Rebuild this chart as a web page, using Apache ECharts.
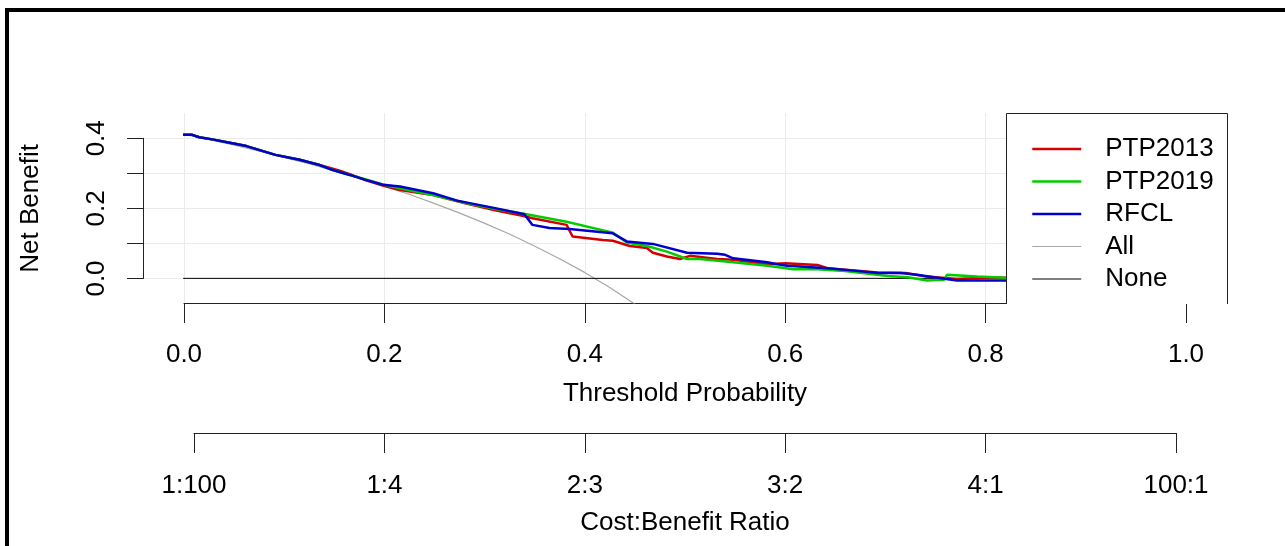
<!DOCTYPE html>
<html>
<head>
<meta charset="utf-8">
<title>Decision curve</title>
<script src="https://cdn.jsdelivr.net/npm/echarts@6/dist/echarts.min.js"></script>
<style>
  html, body { margin: 0; padding: 0; background: #fff; }
  #chart { width: 1285px; height: 546px; }
</style>
</head>
<body>
<div id="chart"></div>
<script>
// [threshold, net benefit]
var ptp2013 = [[0,.408],[.009,.408],[.016,.401],[.029,.395],[.049,.384],[.063,.376],[.092,.351],[.116,.337],[.136,.322],[.156,.306],[.166,.296],[.182,.279],[.199,.264],[.216,.251],[.249,.237],[.280,.214],[.312,.193],[.338,.178],[.348,.171],[.382,.152],[.388,.119],[.418,.109],[.428,.107],[.445,.092],[.462,.086],[.468,.073],[.482,.062],[.495,.055],[.505,.064],[.532,.055],[.548,.053],[.582,.040],[.600,.043],[.632,.038],[.642,.029],[.692,.017],[.720,.015],[.741,.005],[.771,-.002],[.800,.002],[.820,.002],[.900,.000],[.990,.000]];
var ptp2019 = [[0,.408],[.009,.408],[.016,.401],[.029,.395],[.049,.384],[.063,.376],[.092,.351],[.116,.337],[.136,.322],[.149,.308],[.166,.294],[.182,.281],[.199,.267],[.216,.256],[.249,.237],[.282,.214],[.312,.197],[.342,.182],[.382,.161],[.428,.130],[.442,.102],[.462,.092],[.482,.076],[.502,.055],[.515,.055],[.548,.046],[.582,.036],[.608,.026],[.632,.026],[.655,.022],[.702,.007],[.722,.003],[.741,-.006],[.758,-.004],[.761,.010],[.791,.005],[.820,.002],[.900,.000],[.990,.000]];
var rfcl = [[0,.408],[.009,.408],[.016,.401],[.029,.395],[.049,.384],[.063,.376],[.092,.351],[.116,.337],[.136,.322],[.149,.308],[.166,.294],[.182,.280],[.199,.266],[.216,.261],[.249,.242],[.273,.221],[.312,.199],[.340,.182],[.348,.152],[.365,.143],[.385,.140],[.428,.128],[.442,.105],[.468,.098],[.502,.073],[.532,.070],[.540,.067],[.548,.057],[.582,.046],[.592,.040],[.602,.036],[.642,.029],[.668,.022],[.692,.015],[.715,.015],[.731,.010],[.748,.003],[.771,-.006],[.820,-.006],[.900,-.006],[.990,-.006]];
var treatAll = [[0,.410],[.025,.395],[.05,.379],[.075,.362],[.10,.344],[.125,.326],[.15,.306],[.175,.285],[.20,.262],[.225,.239],[.25,.213],[.275,.186],[.30,.157],[.325,.126],[.35,.092],[.375,.056],[.40,.017],[.425,-.026],[.45,-.073]];
var treatNone = [[0,0],[.99,0]];

var ratioTicks = [1/101, 0.2, 0.4, 0.6, 0.8, 100/101];
var ratioLabels = ['1:100', '1:4', '2:3', '3:2', '4:1', '100:1'];
var netBenefitLabels = [0, 0.2, 0.4];

var font = "'Liberation Sans', Arial, sans-serif";
var axisColor = '#222';
var gridColor = '#ebebeb';

var chart = echarts.init(document.getElementById('chart'));

function lineSeries(name, data, color, width) {
  return {
    name: name, type: 'line', data: data,
    xAxisIndex: 0, yAxisIndex: 0,
    symbol: 'none', animation: false,
    lineStyle: { color: color, width: width },
    itemStyle: { color: color }
  };
}

chart.setOption({
  backgroundColor: '#fff',
  animation: false,
  textStyle: { fontFamily: font },
  grid: [
    { left: 143, right: 58, top: 113, bottom: 243 },   // data
    { left: 184, right: 99, top: 113, bottom: 243 },   // threshold axis
    { left: 194, right: 109, top: 413, bottom: 113 },  // cost:benefit axis
    { left: 143, right: 58, top: 138.3, bottom: 267.5 } // net benefit axis
  ],
  xAxis: [
    { gridIndex: 0, type: 'value', min: -0.04, max: 1.04, show: false },
    {
      gridIndex: 1, type: 'value', min: 0, max: 1, interval: 0.2,
      name: 'Threshold Probability', nameLocation: 'middle', nameGap: 78,
      nameTextStyle: { fontSize: 26, color: '#000', fontFamily: font },
      axisLine: { show: true, onZero: false, lineStyle: { color: axisColor, width: 1 } },
      axisTick: { show: true, length: 20, lineStyle: { color: axisColor } },
      axisLabel: { fontSize: 26, color: '#000', margin: 39, fontFamily: font,
        formatter: function (v) { return v.toFixed(1); } },
      splitLine: { show: true, lineStyle: { color: gridColor, width: 1 } }
    },
    {
      gridIndex: 2, type: 'value', min: ratioTicks[0], max: ratioTicks[ratioTicks.length - 1],
      name: 'Cost:Benefit Ratio', nameLocation: 'middle', nameGap: 77,
      nameTextStyle: { fontSize: 26, color: '#000', fontFamily: font },
      axisLine: { show: true, onZero: false, lineStyle: { color: axisColor, width: 1 } },
      axisTick: { show: true, length: 20, customValues: ratioTicks, lineStyle: { color: axisColor } },
      axisLabel: { fontSize: 26, color: '#000', margin: 40, fontFamily: font,
        customValues: ratioTicks,
        formatter: function (v) {
          for (var i = 0; i < ratioTicks.length; i++) {
            if (Math.abs(ratioTicks[i] - v) < 1e-6) return ratioLabels[i];
          }
          return '';
        } },
      splitLine: { show: false }
    },
    { gridIndex: 3, type: 'value', min: 0, max: 1, show: false }
  ],
  yAxis: [
    { gridIndex: 0, type: 'value', min: -0.07, max: 0.47, show: false },
    { gridIndex: 1, type: 'value', min: 0, max: 1, show: false },
    { gridIndex: 2, type: 'value', min: 0, max: 1, show: false },
    {
      gridIndex: 3, type: 'value', min: 0, max: 0.4, interval: 0.1,
      name: 'Net Benefit', nameLocation: 'middle', nameGap: 99, nameRotate: 90,
      nameTextStyle: { fontSize: 26, color: '#000', fontFamily: font },
      axisLine: { show: true, onZero: false, lineStyle: { color: axisColor, width: 1 } },
      axisTick: { show: true, length: 16, lineStyle: { color: axisColor } },
      axisLabel: { fontSize: 26, color: '#000', margin: 33, rotate: 90, fontFamily: font,
        customValues: netBenefitLabels,
        formatter: function (v) { return v.toFixed(1); } },
      splitLine: { show: true, lineStyle: { color: gridColor, width: 1 } }
    }
  ],
  legend: {
    orient: 'vertical',
    left: 1031, top: 136, padding: 0,
    itemWidth: 49, itemHeight: 26, itemGap: 6.5,
    data: [
      { name: 'PTP2013', lineStyle: { width: 2.5 } },
      { name: 'PTP2019', lineStyle: { width: 2.5 } },
      { name: 'RFCL', lineStyle: { width: 2.5 } },
      { name: 'All', lineStyle: { width: 1.2 } },
      { name: 'None', lineStyle: { width: 1.2 } }
    ],
    itemStyle: { opacity: 0 },
    textStyle: { fontSize: 26, color: '#000', fontFamily: font, padding: [0, 0, 0, 19] },
    z: 10
  },
  graphic: [
    { type: 'rect', z: 8, shape: { x: 1006, y: 113, width: 222, height: 191 },
      style: { fill: '#fff', stroke: null } },
    { type: 'polyline', z: 9, shape: { points: [[1006.5, 304], [1006.5, 113.5], [1227.5, 113.5], [1227.5, 304]] },
      style: { fill: null, stroke: '#222', lineWidth: 1 } },
    { type: 'rect', z: 9, shape: { x: 7, y: 10, width: 1400, height: 600 },
      style: { fill: null, stroke: '#000', lineWidth: 4 } }
  ],
  series: [
    lineSeries('All', treatAll, '#a8a8a8', 1.2),
    lineSeries('None', treatNone, '#000000', 1),
    lineSeries('PTP2013', ptp2013, '#d40000', 2.5),
    lineSeries('PTP2019', ptp2019, '#00cc00', 2.5),
    lineSeries('RFCL', rfcl, '#0000cc', 2.5)
  ]
});
</script>
</body>
</html>
